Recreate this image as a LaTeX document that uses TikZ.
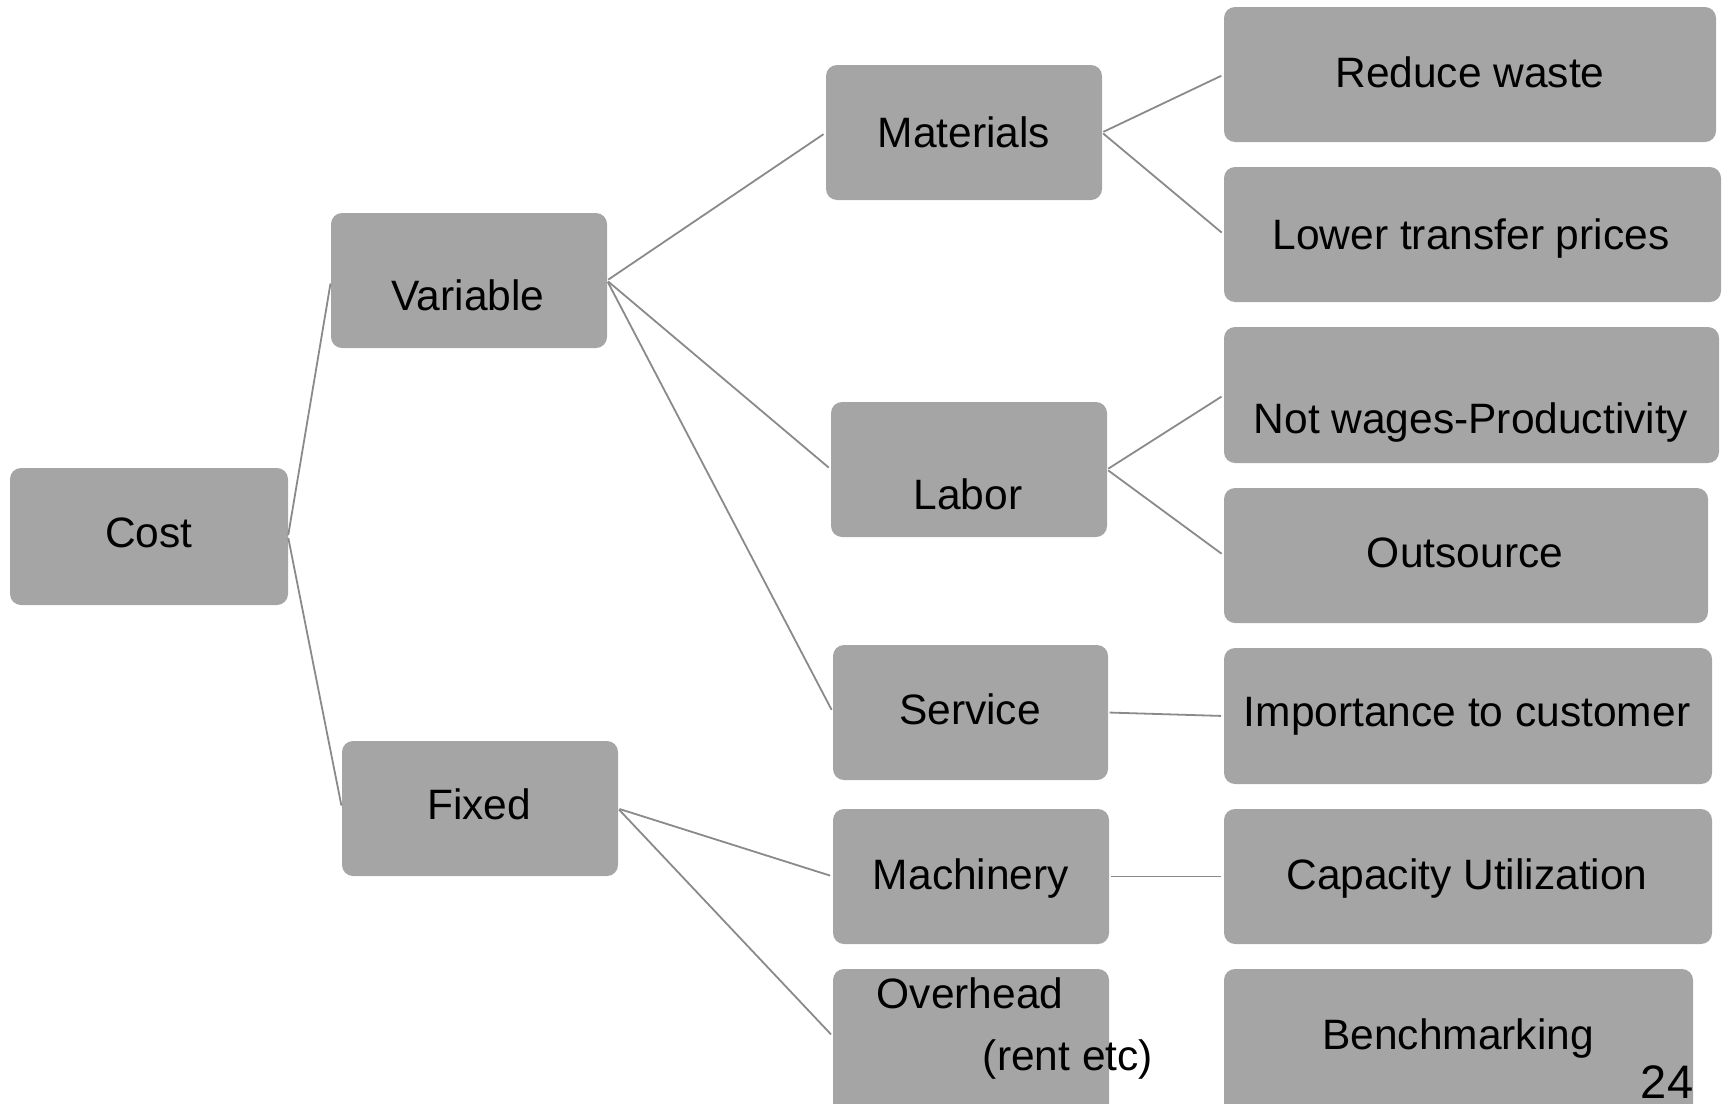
\documentclass[tikz,border=0pt]{standalone}
\usepackage{fontspec}
\setmainfont{Liberation Sans}
\usetikzlibrary{calc}
\definecolor{boxgray}{HTML}{A5A5A5}
\definecolor{linegray}{HTML}{8A8A8A}
\tikzset{
  box/.style={fill=boxgray, draw=none, rounded corners=11pt, inner sep=0pt},
  txt/.style={inner sep=0pt, text height=30.5pt, text depth=0pt, font=\fontsize{42.5}{50}\selectfont},
  conn/.style={draw=linegray, line width=1.8pt, shorten <=1.5pt, shorten >=3pt}
}
\newcommand{\mybox}[5]{% name, x1, y1, x2, y2
  \path[box] (#2,#3) rectangle (#4,#5);
  \coordinate (#1-w) at (#2,{(#3+#5)/2});
  \coordinate (#1-e) at (#4,{(#3+#5)/2});
}
\begin{document}
\begin{tikzpicture}[x=1pt,y=-1pt]
\useasboundingbox (0,0) rectangle (1723,1103);
\clip (0,0) rectangle (1723,1103);
% boxes
\mybox{cost}{10}{468}{288}{605}
\mybox{var}{331}{213}{607}{348}
\mybox{fix}{342}{741}{618}{876}
\mybox{mat}{826}{65}{1102}{200}
\mybox{lab}{831}{402}{1107}{537}
\mybox{ser}{833}{645}{1108}{780}
\mybox{mac}{833}{809}{1109}{944}
\mybox{ove}{833}{969}{1109}{1130}
\mybox{red}{1224}{7}{1716}{142}
\mybox{low}{1224}{167}{1721}{302}
\mybox{not}{1224}{327}{1719}{463}
\mybox{out}{1224}{488}{1708}{623}
\mybox{imp}{1224}{648}{1712}{784}
\mybox{cap}{1224}{809}{1712}{944}
\mybox{ben}{1224}{969}{1693}{1130}
% texts
\node[txt] (costT) at (149,532) {Cost};
\node[txt] (varT) at (468,295) {Variable};
\node[txt] (fixT) at (479,804) {Fixed};
\node[txt] (matT) at (964,132) {Materials};
\node[txt] (labT) at (968,494) {Labor};
\node[txt] (serT) at (970,709) {Service};
\node[txt] (macT) at (971,874) {Machinery};
\node[txt] (oveT) at (970,993) {Overhead};
\node[txt] (oveT2) at (1068,1055) {(rent etc)};
\node[txt] (redT) at (1470,72) {Reduce waste};
\node[txt] (lowT) at (1471,234) {Lower transfer prices};
\node[txt] (notT) at (1471,418) {Not wages-Productivity};
\node[txt] (outT) at (1465,552) {Outsource};
\node[txt] (impT) at (1467,711) {Importance to customer};
\node[txt] (capT) at (1467,874) {Capacity Utilization};
\node[txt] (benT) at (1458,1034) {Benchmarking};
\node[inner sep=0pt, text height=34pt, text depth=0pt, font=\fontsize{47}{56}\selectfont] (pg) at (1667,1081) {24};
% connectors
\draw[conn] (cost-e) -- (var-w);
\draw[conn] (cost-e) -- (fix-w);
\draw[conn] (var-e) -- (mat-w);
\draw[conn] (var-e) -- (lab-w);
\draw[conn] (var-e) -- (ser-w);
\draw[conn] (fix-e) -- (mac-w);
\draw[conn] (fix-e) -- ($(ove-w)+(0,-13)$);
\draw[conn] (mat-e) -- (red-w);
\draw[conn] (mat-e) -- (low-w);
\draw[conn] (lab-e) -- (not-w);
\draw[conn] (lab-e) -- (out-w);
\draw[conn] (ser-e) -- (imp-w);
\draw[conn] (mac-e) -- (cap-w);
\end{tikzpicture}
\end{document}
